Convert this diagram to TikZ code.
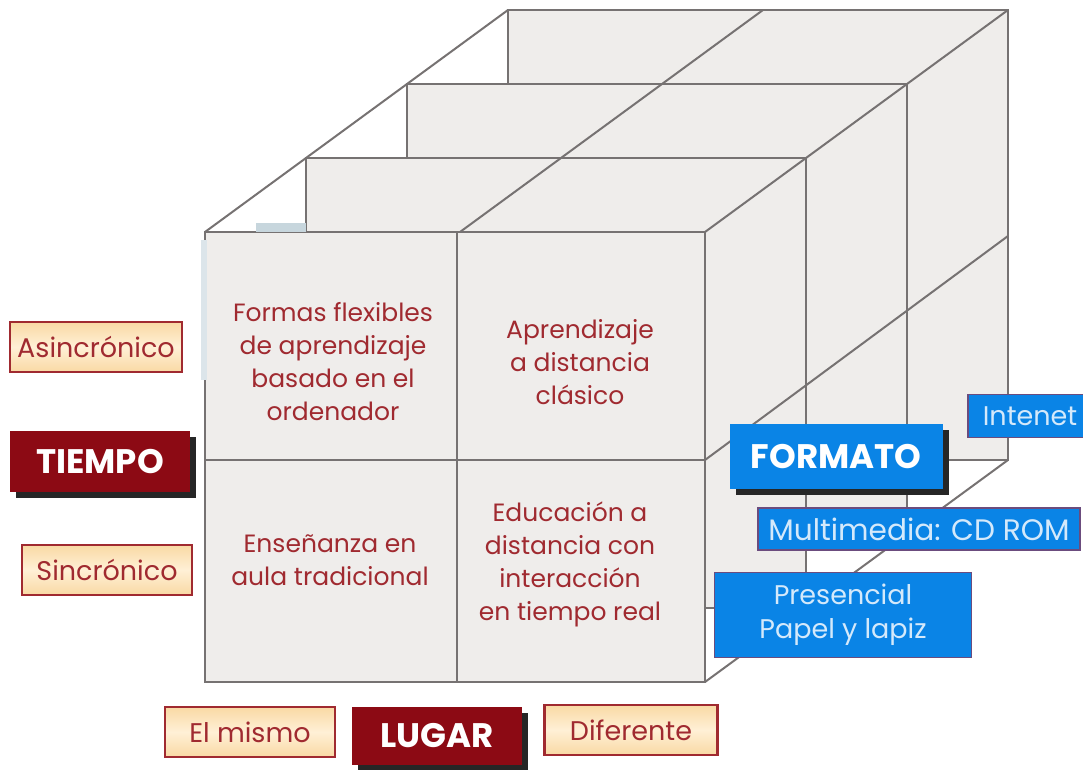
\documentclass[tikz,border=0pt]{standalone}
\usepackage{fontspec}
\setmainfont{Poppins}
\usetikzlibrary{shadows}
\definecolor{faceg}{HTML}{EFEDEB}
\definecolor{lineg}{HTML}{767272}
\definecolor{wine}{HTML}{8C0A14}
\definecolor{winetxt}{HTML}{A02A30}
\definecolor{peach}{HTML}{F9D9A4}
\definecolor{peachhi}{HTML}{FFF0D6}
\definecolor{skyblue}{HTML}{0A84E6}
\definecolor{bluetxt}{HTML}{D4E9FB}
\definecolor{plum}{HTML}{6B4C7E}
\definecolor{smudge}{HTML}{B9CCD4}

\begin{document}
\begin{tikzpicture}[x=0.5pt, y=-0.5pt,
    slab/.style={fill=faceg, draw=lineg, line width=1pt},
    edgeline/.style={draw=lineg, line width=1pt},
    celltext/.style={text=winetxt, align=center,
      font=\fontsize{12.5}{16.5}\selectfont},
    choice/.style={shape=rectangle, draw=winetxt, line width=1.2pt,
      top color=peach, bottom color=peach, middle color=peachhi,
      text=winetxt, font=\fontsize{13.5}{16}\selectfont,
      minimum height=25pt, inner sep=0pt},
    axis/.style={shape=rectangle, fill=wine, text=white,
      font=\fontsize{17}{20}\bfseries\selectfont, inner sep=0pt,
      drop shadow={shadow xshift=3pt, shadow yshift=-3pt,
        fill=black!85, opacity=1}},
    medium/.style={shape=rectangle, fill=skyblue, draw=plum,
      line width=0.8pt, text=bluetxt, align=center,
      font=\fontsize{13.5}{17}\selectfont, inner sep=0pt}]

  \useasboundingbox (0,0) rectangle (1083,770);

  \foreach \k in {3,2,1,0}
    \path[slab] ({205+101*\k},{232-74*\k}) rectangle ++(500,450);

  \fill[smudge!80] (256,232) rectangle (306,223);
  \fill[smudge!50] (201,240) rectangle (207,380);

  \draw[edgeline] (205,232) -- (508,10);
  \draw[edgeline] (460,232) -- (763,10);
  \draw[edgeline] (705,232) -- (1008,10);
  \draw[edgeline] (705,460) -- (1008,236);
  \draw[edgeline] (705,682) -- (1008,460);
  \draw[edgeline] (457,232) -- (457,682);
  \draw[edgeline] (205,460) -- (705,460);

  \node[celltext] (Flex) at (333,362)
       {Formas flexibles\\de aprendizaje\\basado en el\\ordenador};
  \node[celltext] (Clas) at (580,362)
       {Aprendizaje\\a distancia\\clásico};
  \node[celltext] (Ense) at (330,560)
       {Enseñanza en\\aula tradicional};
  \node[celltext] (Educ) at (570,564)
       {Educación a\\distancia con\\interacción\\en tiempo real};

  \node[axis, minimum width=90pt, minimum height=30.5pt] (Tiem)
       at (100,462) {TIEMPO};
  \node[choice, minimum width=86pt] (Asin) at (96,347) {Asincrónico};
  \node[choice, minimum width=85pt] (Sinc) at (107,570) {Sincrónico};

  \node[axis, minimum width=85pt, minimum height=29pt] (Lug)
       at (437,736) {LUGAR};
  \node[choice, minimum width=85pt] (Mismo) at (250,732) {El mismo};
  \node[choice, minimum width=86.5pt] (Dif) at (631,730) {Diferente};

  \node[axis, fill=skyblue, minimum width=106.5pt, minimum height=32.5pt]
       (Form) at (836,457) {FORMATO};
  \node[medium, minimum width=62pt, minimum height=21.5pt] (Inet)
       at (1030,416) {Intenet};
  \node[medium, minimum width=161pt, minimum height=21pt,
        font=\fontsize{14.8}{17}\selectfont] (Multi)
       at (919,529) {Multimedia: CD ROM};
  \node[medium, minimum width=128.5pt, minimum height=42.5pt] (Pres)
       at (843,615) {Presencial\\Papel y lapiz};
\end{tikzpicture}
\end{document}
